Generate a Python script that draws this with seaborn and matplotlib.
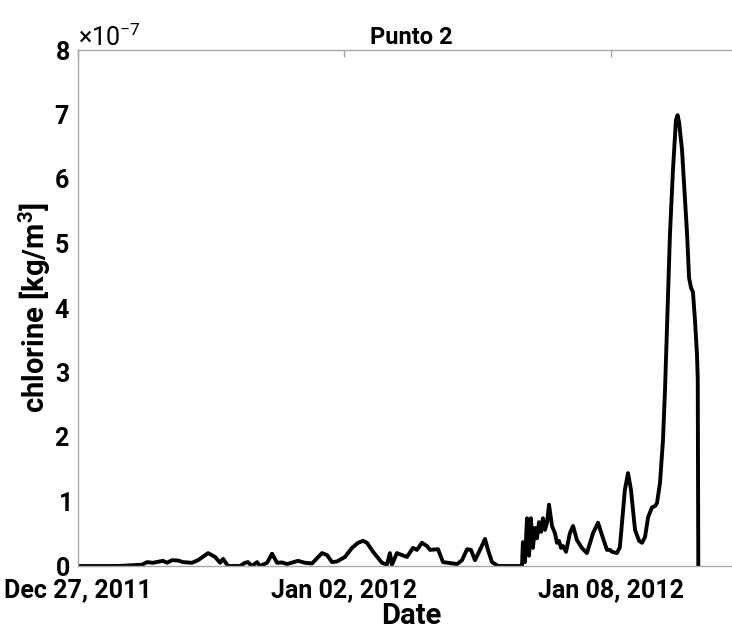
import matplotlib
matplotlib.use("Agg")
import matplotlib.pyplot as plt
import matplotlib.dates as mdates
from matplotlib.ticker import ScalarFormatter, FixedLocator
import numpy as np
import pandas as pd
import seaborn as sns

# ---- data (hours since 2011-12-27 00:00, chlorine in units of 1e-7 kg/m^3) ----
hours = [0, 21.6, 34.6, 37.3, 40.5, 45.9, 48.1, 50.8, 54.1, 56.8, 61.6, 64.9, 70.3, 74.1,
         76.8, 78.4, 81.1, 87.6,
         90.3, 91.9, 94.0, 96.8, 98.4, 102.2, 104.9, 107.6, 110.3, 113.0, 118.9, 122.7,
         126.5, 131.9, 134.6, 137.3, 140.0, 144.3, 148.1, 151.4, 154.1, 156.2, 159.5,
         164.3, 167.0,
         168.6, 169.7, 172.4, 175.1, 177.8, 181.1, 183.2, 185.9, 188.6, 190.3, 194.6,
         197.3, 200.0, 204.9, 207.6, 210.3, 212.4, 214.6, 217.3, 220.0, 221.6, 223.8,
         227.0, 238.9,
         240.0, 240.5, 241.6, 242.7, 243.8, 244.8, 245.9, 247.0, 248.1, 249.2, 250.3,
         251.3, 252.4, 253.5, 254.6, 256.2, 257.8, 258.9, 260.0, 261.1, 262.2, 263.8,
         265.9, 267.6, 269.7, 272.4, 275.1, 278.4, 281.1, 283.8, 285.9, 287.6, 288.6,
         291.3,
         292.9, 295.6, 297.3, 298.9, 301.1, 303.3, 304.9, 306.5, 308.2, 310.3, 312.0,
         313.0, 314.6, 316.2, 317.3, 318.9, 320.0, 321.6, 323.2, 324.1, 324.9, 326.5,
         328.1, 329.2, 330.3, 331.4, 332.4, 333.5, 334.6, 335.0, 335.3]
chlorine_e7 = [0, 0, 0.02, 0.06, 0.05, 0.08, 0.05, 0.09, 0.085, 0.06, 0.05, 0.09, 0.20, 0.14,
               0.05, 0.11, 0.0, 0.0,
               0.05, 0.06, 0.0, 0.06, 0.0, 0.05, 0.19, 0.05, 0.055, 0.03, 0.08, 0.05,
               0.04, 0.20, 0.17, 0.06, 0.07, 0.14, 0.28, 0.36, 0.39, 0.36, 0.22,
               0.05, 0.02,
               0.20, 0.02, 0.20, 0.17, 0.14, 0.28, 0.25, 0.36, 0.31, 0.25, 0.26,
               0.06, 0.05, 0.03, 0.09, 0.26, 0.25, 0.09, 0.25, 0.42, 0.25, 0.06,
               0.0, 0.0,
               0.0, 0.37, 0.06, 0.74, 0.16, 0.74, 0.28, 0.59, 0.43, 0.68, 0.53,
               0.74, 0.56, 0.67, 0.95, 0.62, 0.51, 0.36, 0.39, 0.28, 0.31, 0.22,
               0.51, 0.62, 0.40, 0.28, 0.20, 0.51, 0.67, 0.43, 0.25, 0.25, 0.22,
               0.20,
               0.29, 1.18, 1.44, 1.18, 0.56, 0.39, 0.36, 0.45, 0.76, 0.91, 0.93,
               0.98, 1.29, 1.95, 2.73, 4.17, 5.16, 6.14, 6.91, 6.99, 6.88, 6.45,
               5.67, 5.16, 4.47, 4.31, 4.25, 3.81, 3.27, 2.9, 0.0]
start_date = "2011-12-27"
x_ticks = ["2011-12-27", "2012-01-02", "2012-01-08"]
y_ticks = [0, 1, 2, 3, 4, 5, 6, 7, 8]
title = "Punto 2"
xlabel = "Date"
ylabel = "chlorine [kg/m$^\\mathbf{3}$]"

df = pd.DataFrame({
    "Date": pd.Timestamp(start_date) + pd.to_timedelta(hours, unit="h"),
    "chlorine": np.array(chlorine_e7) * 1e-7,
})

sns.set_style("white")
plt.rcParams["font.family"] = ["Roboto", "DejaVu Sans"]
plt.rcParams["mathtext.fontset"] = "custom"
plt.rcParams["mathtext.rm"] = "Roboto"
plt.rcParams["mathtext.bf"] = "Roboto:bold"
plt.rcParams["axes.unicode_minus"] = False

fig = plt.figure(figsize=(7.32, 6.40), dpi=100)
ax = fig.add_axes([78 / 732, 1 - 566 / 640, (744 - 78) / 732, (566 - 50) / 640])

sns.lineplot(data=df, x="Date", y="chlorine", ax=ax, color="black", linewidth=2.8,
             estimator=None, sort=False)

ax.set_xlim(pd.Timestamp("2011-12-27"), pd.Timestamp("2012-01-11"))
ax.set_ylim(0, 8e-7)
ax.xaxis.set_major_locator(FixedLocator([mdates.date2num(pd.Timestamp(t)) for t in x_ticks]))
ax.xaxis.set_major_formatter(mdates.DateFormatter("%b %d, %Y"))
ax.yaxis.set_major_locator(FixedLocator([v * 1e-7 for v in y_ticks]))
fmt = ScalarFormatter(useMathText=True)
fmt.set_powerlimits((-3, 3))
ax.yaxis.set_major_formatter(fmt)

for sp in ax.spines.values():
    sp.set_visible(True)
    sp.set_color("#a8a8a8")
    sp.set_linewidth(1.0)
ax.tick_params(axis="both", which="major", direction="in", length=5, width=1,
               color="#a8a8a8", top=True, right=True, labelsize=18,
               labelcolor="black")
ax.tick_params(axis="y", pad=6)
ax.tick_params(axis="x", pad=9)
for lab in ax.get_xticklabels() + ax.get_yticklabels():
    lab.set_fontweight("bold")

off = ax.yaxis.get_offset_text()
off.set_fontsize(18)
off.set_color("black")

ax.set_title(title, fontsize=17, fontweight="bold", pad=4, color="black")
ax.set_xlabel(xlabel, fontsize=21, fontweight="bold", labelpad=0, color="black")
ax.set_ylabel(ylabel, fontsize=21, fontweight="bold", labelpad=1, color="black")

fig.savefig("out.png", dpi=100)
